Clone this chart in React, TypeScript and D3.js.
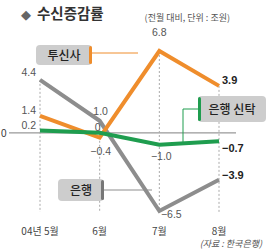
import * as d3 from "d3";
import { useEffect, useRef } from "react";

const months = ["04년 5월", "6월", "7월", "8월"];
const trust = [1.4, -0.4, 6.8, 3.9]; // 투신사
const bank = [4.4, 1.0, -6.5, -3.9]; // 은행
const bankTrust = [0.2, 0.0, -1.0, -0.7]; // 은행 신탁
const bankLabels = ["4.4", "1.0", "−6.5", "−3.9"];
const trustLabels = ["1.4", "−0.4", "6.8", "3.9"];
const bankTrustLabels = ["0.2", "0", "−1.0", "−0.7"];

const ORANGE = "#ef8d2c";
const GRAY = "#8d8d8d";
const GREEN = "#1f9d4f";
const FONT = "Liberation Sans, Arial, sans-serif";

function App() {
  const ref = useRef<SVGSVGElement>(null);

  useEffect(() => {
    const svg = d3.select(ref.current);
    svg.selectAll("*").remove();

    const x = d3.scalePoint<string>().domain(months).range([40, 219]);
    const y = d3.scaleLinear().domain([-6.5, 6.8]).range([211, 51]);

    // title
    svg.append("text").attr("x", 21).attr("y", 19).attr("font-size", 13)
      .attr("fill", "#666").attr("font-family", FONT).text("◆");
    svg.append("text").attr("x", 37).attr("y", 19).attr("font-size", 14.5)
      .attr("font-weight", "bold").attr("fill", "#333")
      .attr("font-family", "Noto Sans CJK KR, sans-serif").text("수신증감률");
    svg.append("text").attr("x", 230).attr("y", 21).attr("font-size", 9)
      .attr("text-anchor", "end").attr("fill", "#555")
      .attr("font-family", "Noto Sans CJK KR, sans-serif").text("(전월 대비, 단위 : 조원)");

    // zero line
    svg.append("line").attr("x1", 9).attr("x2", 236)
      .attr("y1", y(0)).attr("y2", y(0)).attr("stroke", "#999").attr("stroke-width", 1.2);
    svg.append("text").attr("x", 1).attr("y", y(0) + 4).attr("font-size", 10)
      .attr("font-family", FONT).attr("fill", "#333").text("0");

    // dotted guides
    months.forEach((m, i) => {
      const top = Math.max(trust[i], bank[i], bankTrust[i]);
      svg.append("line").attr("x1", x(m)!).attr("x2", x(m)!)
        .attr("y1", y(top)).attr("y2", 212)
        .attr("stroke", "#aaa").attr("stroke-width", 1).attr("stroke-dasharray", "2,2");
      svg.append("text").attr("x", x(m)!).attr("y", 235).attr("font-size", 10)
        .attr("text-anchor", "middle").attr("fill", "#444")
        .attr("font-family", "Noto Sans CJK KR, sans-serif").text(m);
    });

    const line = d3.line<number>().x((_, i) => x(months[i])!).y((d) => y(d));

    const labelBox = (bx: number, by: number, w: number, h: number, text: string, stripe: string, side: "left" | "right") => {
      svg.append("rect").attr("x", bx).attr("y", by).attr("width", w).attr("height", h)
        .attr("rx", 4).attr("fill", "#cdcdcd");
      svg.append("rect").attr("x", side === "right" ? bx + w - 3 : bx).attr("y", by + 1)
        .attr("width", 3).attr("height", h - 2).attr("rx", 1.5).attr("fill", stripe);
      svg.append("text").attr("x", bx + w / 2).attr("y", by + h / 2 + 4.5)
        .attr("text-anchor", "middle").attr("font-size", 12).attr("fill", "#222")
        .attr("font-weight", 500)
        .attr("font-family", "Noto Sans CJK KR, sans-serif").text(text);
    };

    // leader lines
    svg.append("line").attr("x1", 92).attr("x2", 138).attr("y1", 53).attr("y2", 53)
      .attr("stroke", ORANGE).attr("stroke-width", 1);
    svg.append("polyline").attr("points", `198,109 183,109 183,${y(-0.85)}`)
      .attr("fill", "none").attr("stroke", GREEN).attr("stroke-width", 1);
    svg.append("line").attr("x1", 104).attr("x2", 152).attr("y1", 190).attr("y2", 190)
      .attr("stroke", GRAY).attr("stroke-width", 1);

    svg.append("path").datum(bank).attr("d", line).attr("fill", "none")
      .attr("stroke", GRAY).attr("stroke-width", 4).attr("stroke-linejoin", "miter");
    svg.append("path").datum(trust).attr("d", line).attr("fill", "none")
      .attr("stroke", ORANGE).attr("stroke-width", 4).attr("stroke-linejoin", "miter");
    svg.append("path").datum(bankTrust).attr("d", line).attr("fill", "none")
      .attr("stroke", GREEN).attr("stroke-width", 4).attr("stroke-linejoin", "miter");

    labelBox(36, 45, 56, 20, "투신사", ORANGE, "right");
    labelBox(198, 96, 68, 26, "은행 신탁", GREEN, "left");
    labelBox(58, 179, 46, 22, "은행", "#777", "right");

    // value labels
    const vt = (tx: number, ty: number, s: string, anchor = "middle", bold = false) =>
      svg.append("text").attr("x", tx).attr("y", ty).attr("font-size", bold ? 11 : 10.5)
        .attr("text-anchor", anchor).attr("font-weight", bold ? "bold" : "normal")
        .attr("fill", bold ? "#222" : "#555").attr("font-family", FONT).text(s);

    const x0 = x(months[0])!, x1 = x(months[1])!, x2 = x(months[2])!, x3 = x(months[3])!;
    vt(x0 - 4, y(bank[0]) - 4, bankLabels[0], "end");
    vt(x0 - 4, y(trust[0]) - 2, trustLabels[0], "end");
    vt(x0 - 4, y(bankTrust[0]) - 1, bankTrustLabels[0], "end");
    vt(x1 + 1, y(bank[1]) - 6, bankLabels[1]);
    vt(x1 - 2, y(bankTrust[1]) - 2, bankTrustLabels[1]);
    vt(x1 + 1, y(trust[1]) + 17, trustLabels[1]);
    vt(x2, y(trust[2]) - 15, trustLabels[2]);
    vt(x2 + 2, y(bankTrust[2]) + 15, bankTrustLabels[2]);
    vt(x2 + 12, y(bank[2]) + 7, bankLabels[2]);
    vt(x3 + 3, y(trust[3]) - 2, trustLabels[3], "start", true);
    vt(x3 + 3, y(bankTrust[3]) + 11, bankTrustLabels[3], "start", true);
    vt(x3 + 3, y(bank[3]) - 1, bankLabels[3], "start", true);

    svg.append("text").attr("x", 262).attr("y", 247).attr("font-size", 9)
      .attr("text-anchor", "end").attr("font-style", "italic").attr("fill", "#555")
      .attr("font-family", "Noto Sans CJK KR, sans-serif").text("(자료 : 한국은행)");
  }, []);

  return (
    <svg ref={ref} width={266} height={249}
      style={{ position: "absolute", left: 0, top: 0, background: "#fff" }} />
  );
}

export default App;
